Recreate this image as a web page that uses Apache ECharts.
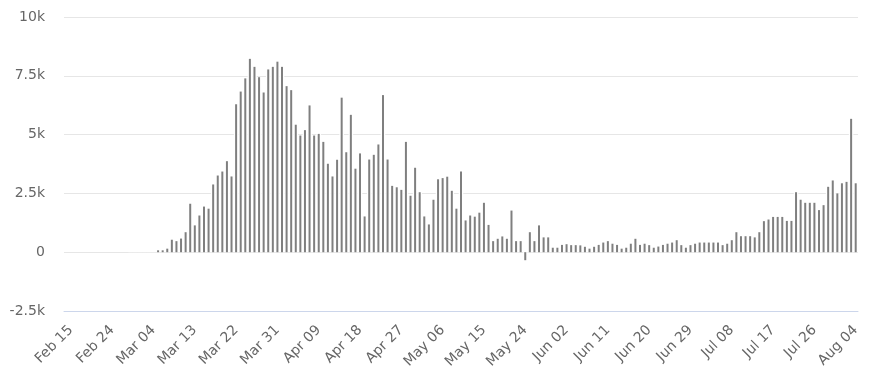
<!DOCTYPE html>
<html>
<head>
<meta charset="utf-8">
<script src="https://cdn.jsdelivr.net/npm/echarts@6/dist/echarts.min.js"></script>
<style>html,body{margin:0;padding:0;background:#fff;}#chart{width:873px;height:379px;}</style>
</head>
<body>
<div id="chart"></div>
<script>
// Categories: one per day, starting Feb 14 (2020), 173 days through Aug 04
var startDate = [2020, 1, 14];
var dayCount = 173;
var monthNames = ['Jan','Feb','Mar','Apr','May','Jun','Jul','Aug','Sep','Oct','Nov','Dec'];
var categories = [];
for (var i = 0; i < dayCount; i++) {
  var d = new Date(Date.UTC(startDate[0], startDate[1], startDate[2] + i));
  var dd = d.getUTCDate();
  categories.push(monthNames[d.getUTCMonth()] + ' ' + (dd < 10 ? '0' + dd : dd));
}

// Tick labels shown on the x axis
var tickLabels = ['Feb 15','Feb 24','Mar 04','Mar 13','Mar 22','Mar 31','Apr 09','Apr 18','Apr 27',
  'May 06','May 15','May 24','Jun 02','Jun 11','Jun 20','Jun 29','Jul 08','Jul 17','Jul 26','Aug 04'];

// Y-axis ticks
var yTicks = [-2500, 0, 2500, 5000, 7500, 10000];
var yTickLabels = ['-2.5k', '0', '2.5k', '5k', '7.5k', '10k'];

// Daily values: Feb 14 – Feb 27 no data, Feb 28 – Mar 04 zero
var noData = [null,null,null,null,null,null,null,null,null,null,null,null,null,null];
var zeros = [0,0,0,0,0,0];
// Mar 05 onward
var dailyValues = [
  80, 80, 150, 530, 470, 580, 850, 2060, 1140, 1560,
  1940, 1850, 2880, 3260, 3430, 3870, 3220, 6290, 6830, 7390,
  8220, 7880, 7440, 6790, 7770, 7880, 8100, 7880, 7060, 6890,
  5420, 4960, 5190, 6240, 4960, 5030, 4690, 3760, 3220, 3930,
  6570, 4250, 5840, 3550, 4200, 1520, 3940, 4140, 4580, 6680,
  3940, 2820, 2760, 2650, 4690, 2400, 3590, 2550, 1520, 1180,
  2230, 3100, 3150, 3210, 2610, 1850, 3430, 1350, 1560, 1510,
  1680, 2100, 1160, 470, 570, 670, 570, 1770, 470, 470,
  -340, 850, 470, 1140, 630, 630, 190, 190, 310, 340,
  300, 300, 290, 230, 150, 230, 310, 410, 470, 360,
  310, 150, 190, 360, 570, 310, 360, 300, 190, 240,
  310, 360, 410, 510, 300, 190, 300, 360, 410, 410,
  410, 410, 410, 300, 360, 510, 850, 680, 680, 680,
  630, 850, 1320, 1390, 1500, 1500, 1500, 1330, 1330, 2550,
  2230, 2100, 2100, 2100, 1790, 2000, 2780, 3050, 2500, 2930,
  2990, 5670, 2930
];
var seriesData = noData.concat(zeros, dailyValues);

var chart = echarts.init(document.getElementById('chart'), null, {renderer: 'canvas'});
chart.setOption({
  animation: false,
  backgroundColor: '#ffffff',
  grid: {left: 64, right: 15, top: 17, bottom: 68, containLabel: false},
  xAxis: [{
    type: 'category',
    data: categories,
    boundaryGap: true,
    axisLine: {show: true, onZero: false, lineStyle: {color: '#ccd6eb', width: 1}},
    axisTick: {show: false},
    splitLine: {show: false},
    axisLabel: {
      interval: function (idx, val) { return tickLabels.indexOf(val) >= 0; },
      rotate: 45,
      color: '#666666',
      fontSize: 14,
      fontFamily: 'DejaVu Sans',
      margin: 17
    }
  }, {
    type: 'category',
    data: categories,
    boundaryGap: true,
    show: false,
    position: 'bottom',
    axisLine: {onZero: false}
  }],
  yAxis: {
    type: 'value',
    min: yTicks[0],
    max: yTicks[yTicks.length - 1],
    interval: 2500,
    axisLine: {show: false},
    axisTick: {show: false},
    splitLine: {show: true, lineStyle: {color: '#e6e6e6', width: 1}},
    axisLabel: {
      color: '#666666',
      fontSize: 14,
      fontFamily: 'DejaVu Sans',
      margin: 19,
      formatter: function (v) {
        var k = yTicks.indexOf(v);
        return k >= 0 ? yTickLabels[k] : '';
      }
    }
  },
  series: [{
    // white mask behind each column (hides gridlines like column borders do)
    type: 'bar',
    xAxisIndex: 1,
    data: seriesData,
    barCategoryGap: '0%',
    barMinHeight: 2,
    silent: true,
    itemStyle: {color: '#ffffff'}
  }, {
    type: 'bar',
    xAxisIndex: 0,
    data: seriesData,
    barWidth: 2,
    itemStyle: {color: '#7f7f7f'}
  }]
});
</script>
</body>
</html>
